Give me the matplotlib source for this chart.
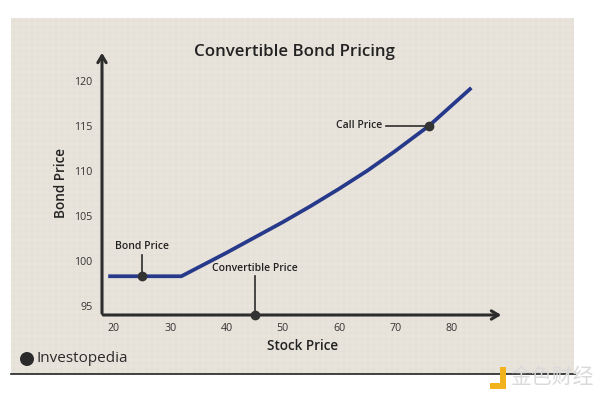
import numpy as np
import matplotlib.pyplot as plt
from matplotlib.patches import Rectangle, Ellipse

plt.rcParams['font.family'] = ['Open Sans', 'DejaVu Sans']

# curve
stock_price = [19, 32, 40, 45, 50, 55, 60, 65, 70, 76, 83.5]
bond_price = [98.3, 98.3, 100.9, 102.6, 104.3, 106.1, 108.0, 110.0, 112.2, 115.0, 119.2]

x_ticks = [20, 30, 40, 50, 60, 70, 80]
y_ticks = [95, 100, 105, 110, 115, 120]

# marked points: (label, x, y)
bond_pt = ('Bond Price', 25, 98.3)
conv_pt = ('Convertible Price', 45, 94.0)
call_pt = ('Call Price', 76, 115.0)

bg = '#e9e4db'
dark = '#2d2d2d'
navy = '#27398a'

fig = plt.figure(figsize=(6, 3.94), dpi=100)
fig.patch.set_facecolor('white')

# beige panel with faint graph-paper grid
W, H = 600, 394
fig.patches.append(Rectangle((11 / W, 1 - 374 / H), 563 / W, 356 / H,
                             transform=fig.transFigure, facecolor=bg,
                             edgecolor='none', zorder=0))
for gx in np.arange(14, 574, 6):
    fig.add_artist(plt.Line2D([gx / W, gx / W], [1 - 374 / H, 1 - 18 / H],
                              transform=fig.transFigure, color='#e2dcd2',
                              lw=0.3, zorder=0.5))
for gy in np.arange(21, 374, 6):
    fig.add_artist(plt.Line2D([11 / W, 574 / W], [1 - gy / H, 1 - gy / H],
                              transform=fig.transFigure, color='#e2dcd2',
                              lw=0.3, zorder=0.5))
fig.add_artist(plt.Line2D([11 / W, 575 / W], [1 - 374 / H, 1 - 374 / H],
                          transform=fig.transFigure, color='#222222',
                          lw=1.2, zorder=1))

ax = fig.add_axes([102 / W, 1 - 315 / H, 402 / W, 265 / H])
ax.set_zorder(3)
ax.set_facecolor('none')
ax.set_xlim(17.9, 89.3)
ax.set_ylim(94.0, 123.4)
for s in ax.spines.values():
    s.set_visible(False)
ax.tick_params(length=0, labelsize=7.7, colors='#333333')
ax.set_xticks(x_ticks)
ax.set_yticks(y_ticks)
ax.tick_params(axis='x', pad=6)
ax.tick_params(axis='y', pad=7)

# axes with arrow heads
ax.annotate('', xy=(0, 1), xytext=(0, -0.004), xycoords='axes fraction',
            arrowprops=dict(arrowstyle='->,head_length=0.5,head_width=0.3',
                            color=dark, lw=2.2))
ax.annotate('', xy=(1, 0), xytext=(-0.004, 0), xycoords='axes fraction',
            arrowprops=dict(arrowstyle='->,head_length=0.5,head_width=0.3',
                            color=dark, lw=2.2))

ax.plot(stock_price, bond_price, color=navy, lw=2.7, solid_capstyle='butt',
        solid_joinstyle='round', zorder=3)

# annotations
lbl, bx, by = bond_pt
ax.plot([bx, bx], [by, 100.7], color=dark, lw=1.2, zorder=3)
ax.text(bx, 101.0, lbl, ha='center', va='bottom', fontsize=7.5,
        fontweight='semibold', color='#222222')
ax.plot(bx, by, 'o', color='#333333', ms=6, zorder=4)

lbl, cx, cy = conv_pt
ax.plot([cx, cx], [cy, 98.3], color=dark, lw=1.2, zorder=3)
ax.text(cx, 98.6, lbl, ha='center', va='bottom', fontsize=7.5,
        fontweight='semibold', color='#222222')
ax.plot(cx, cy, 'o', color='#333333', ms=6, zorder=4, clip_on=False)

lbl, kx, ky = call_pt
ax.plot([68.4, kx], [ky, ky], color=dark, lw=1.2, zorder=3)
ax.text(67.7, ky, lbl, ha='right', va='center', fontsize=7.5,
        fontweight='semibold', color='#222222')
ax.plot(kx, ky, 'o', color='#333333', ms=6, zorder=4)

ax.set_xlabel('Stock Price', fontsize=9.8, fontweight='semibold',
              color='#222222', labelpad=3)
ax.set_ylabel('Bond Price', fontsize=9.8, fontweight='semibold',
              color='#222222', labelpad=4)

fig.text(294 / W, 1 - 52 / H, 'Convertible Bond Pricing', ha='center',
         va='center', fontsize=12.2, fontweight='semibold', color='#222222')

# logo
fig.patches.append(Ellipse((27 / W, 1 - 359 / H), 14 / W, 14 / H,
                           transform=fig.transFigure, facecolor='#2a2a2a',
                           edgecolor='none', zorder=2))
fig.text(37 / W, 1 - 359 / H, 'Investopedia', ha='left', va='center',
         fontsize=11, color='#2a2a2a')

# watermark
fig.patches.append(Rectangle((490 / W, 1 - 389 / H), 16 / W, 6 / H,
                             transform=fig.transFigure, facecolor='#f2b21b',
                             edgecolor='none', zorder=2))
fig.patches.append(Rectangle((500 / W, 1 - 389 / H), 6 / W, 22 / H,
                             transform=fig.transFigure, facecolor='#f2b21b',
                             edgecolor='none', zorder=2))
fig.text(510 / W, 1 - 377 / H, '金色财经', ha='left', va='center',
         fontsize=15, color='#d9d9d9',
         family=['Noto Sans CJK SC', 'DejaVu Sans'])

fig.savefig('out.png', dpi=100, facecolor='white')
